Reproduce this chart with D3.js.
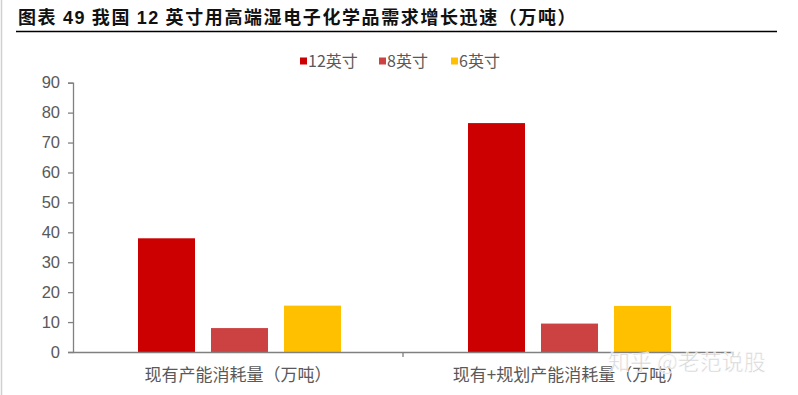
<!DOCTYPE html>
<html><head><meta charset="utf-8">
<script src="https://cdn.jsdelivr.net/npm/d3@7"></script>
<style>body{margin:0;background:#fff;} svg{display:block;}</style>
</head><body>
<script>
const categories = ["现有产能消耗量（万吨）", "现有+规划产能消耗量（万吨）"];
const seriesNames = ["12英寸", "8英寸", "6英寸"];
const values12 = [38, 76.5];
const values8 = [8, 9.5];
const values6 = [15.5, 15.4];
const yTicks = [0, 10, 20, 30, 40, 50, 60, 70, 80, 90];
const colors = ["#CC0000", "#CC4242", "#FFC000"];
const seriesValues = [values12, values8, values6];

const W = 798, H = 395;
const svg = d3.select("body").append("svg").attr("width", W).attr("height", H);

// left light border
svg.append("line").attr("x1", 1.5).attr("x2", 1.5).attr("y1", 0).attr("y2", H)
  .attr("stroke", "#d0d0d0").attr("stroke-width", 1.5);

// title
const title = svg.append("text").attr("x", 18).attr("y", 24)
  .attr("font-family", "'Noto Sans CJK SC', sans-serif").attr("font-weight", "bold")
  .attr("font-size", 18).attr("letter-spacing", 1.6).attr("fill", "#111");
title.append("tspan").text("图表 ");
title.append("tspan").attr("font-family", "'Liberation Sans', Arial, sans-serif").text("49");
title.append("tspan").text(" 我国 ");
title.append("tspan").attr("font-family", "'Liberation Sans', Arial, sans-serif").text("12");
title.append("tspan").text(" 英寸用高端湿电子化学品需求增长迅速（万吨）");
svg.append("line").attr("x1", 16).attr("x2", 777).attr("y1", 31.5).attr("y2", 31.5)
  .attr("stroke", "#000").attr("stroke-width", 1.3);

// scales
const y = d3.scaleLinear().domain([0, 90]).range([352, 82.7]);
const x0 = d3.scaleBand().domain(categories).range([73, 733]).padding(0);
const x1 = d3.scaleBand().domain(seriesNames)
  .range([65, 268]).paddingInner(0.219).paddingOuter(0);

// bars
categories.forEach((c, ci) => {
  seriesNames.forEach((s, si) => {
    const v = seriesValues[si][ci];
    svg.append("rect")
      .attr("x", x0(c) + x1(s))
      .attr("y", y(v))
      .attr("width", x1.bandwidth())
      .attr("height", y(0) - y(v))
      .attr("fill", colors[si]);
  });
});

// y axis
const yAxis = svg.append("g").attr("transform", "translate(73,0)")
  .call(d3.axisLeft(y).tickValues(yTicks).tickSize(5).tickPadding(8).tickFormat(d3.format("d")));
yAxis.select(".domain").attr("stroke", "#808080").attr("stroke-width", 1.3);
yAxis.selectAll(".tick line").attr("stroke", "#808080").attr("stroke-width", 1.3);
yAxis.selectAll(".tick text").attr("font-family", "'Liberation Sans', Arial, sans-serif")
  .attr("font-size", 16.5).attr("fill", "#595959");

// x axis
const xAxis = svg.append("g").attr("transform", "translate(0,352)")
  .call(d3.axisBottom(x0).tickSize(0).tickPadding(17));
xAxis.select(".domain").attr("stroke", "#808080").attr("stroke-width", 1.5);
xAxis.selectAll(".tick text").attr("font-family", "'Noto Sans CJK SC', sans-serif")
  .attr("font-size", 17).attr("fill", "#595959");
// boundary ticks
[73 + x0.step(), 733].forEach(px => {
  svg.append("line").attr("x1", px).attr("x2", px).attr("y1", 352).attr("y2", 357)
    .attr("stroke", "#808080").attr("stroke-width", 1.3);
});

// legend
const legendX = [300, 379, 451];
seriesNames.forEach((s, i) => {
  const g = svg.append("g").attr("transform", `translate(${legendX[i]},61)`);
  g.append("rect").attr("x", 0).attr("y", -3.5).attr("width", 7).attr("height", 7).attr("fill", colors[i]);
  g.append("text").attr("x", 8).attr("y", 6)
    .attr("font-family", "'Noto Sans CJK SC', sans-serif").attr("font-size", 16)
    .attr("fill", "#595959").text(s);
});

// watermark
svg.append("text").attr("x", 608).attr("y", 370)
  .attr("font-family", "'Noto Sans CJK SC', sans-serif").attr("font-size", 22)
  .attr("fill", "#cfcfcf").attr("stroke", "#fff").attr("stroke-width", 0.6)
  .attr("opacity", 0.9).text("知乎 @老范说股");
</script>
</body></html>
